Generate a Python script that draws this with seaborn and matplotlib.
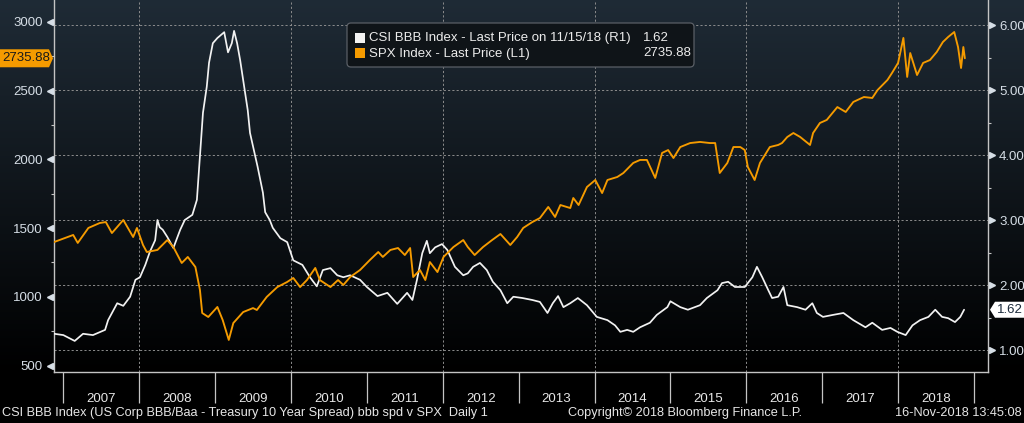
import numpy as np
import pandas as pd
import matplotlib
matplotlib.use("Agg")
import matplotlib.pyplot as plt
import seaborn as sns
from matplotlib import transforms
from matplotlib.patches import FancyBboxPatch, Polygon, Rectangle

# ---------------- data ----------------
bbb_t = [2006.88, 2007.00, 2007.15, 2007.26, 2007.39, 2007.55, 2007.59, 2007.71, 2007.79, 2007.88,
         2007.95, 2008.01, 2008.08, 2008.14, 2008.21, 2008.24, 2008.27, 2008.31, 2008.37, 2008.45,
         2008.54, 2008.60, 2008.70, 2008.76, 2008.80, 2008.84, 2008.89, 2008.92, 2008.97, 2009.03,
         2009.12, 2009.17, 2009.22, 2009.25, 2009.29, 2009.33, 2009.39, 2009.43, 2009.46, 2009.52,
         2009.56, 2009.63, 2009.66, 2009.72, 2009.76, 2009.86, 2009.95, 2010.03, 2010.15, 2010.25,
         2010.34, 2010.42, 2010.52, 2010.61, 2010.69, 2010.78, 2010.91, 2011.00, 2011.14, 2011.27,
         2011.40, 2011.53, 2011.60, 2011.66, 2011.73, 2011.79, 2011.83, 2011.90, 2011.99, 2012.06,
         2012.16, 2012.27, 2012.33, 2012.40, 2012.49, 2012.58, 2012.66, 2012.76, 2012.85, 2012.93,
         2013.05, 2013.18, 2013.28, 2013.38, 2013.45, 2013.52, 2013.59, 2013.68, 2013.78, 2013.90,
         2014.03, 2014.17, 2014.27, 2014.34, 2014.43, 2014.51, 2014.60, 2014.73, 2014.82, 2014.96,
         2015.00, 2015.13, 2015.23, 2015.39, 2015.48, 2015.62, 2015.68, 2015.76, 2015.85, 2015.98,
         2016.08, 2016.14, 2016.21, 2016.29, 2016.34, 2016.42, 2016.49, 2016.54, 2016.67, 2016.78,
         2016.87, 2016.93, 2017.01, 2017.14, 2017.28, 2017.41, 2017.57, 2017.66, 2017.79, 2017.90,
         2017.99, 2018.10, 2018.19, 2018.29, 2018.40, 2018.49, 2018.58, 2018.66, 2018.75, 2018.82,
         2018.87]
bbb_v = [1.25, 1.23, 1.14, 1.25, 1.23, 1.31, 1.46, 1.72, 1.68, 1.82,
         2.08, 2.12, 2.31, 2.51, 2.69, 3.00, 2.89, 2.85, 2.74, 2.57,
         2.85, 3.00, 3.08, 3.31, 3.97, 4.65, 5.05, 5.42, 5.72, 5.80,
         5.89, 5.58, 5.72, 5.91, 5.72, 5.46, 5.00, 4.69, 4.34, 4.03,
         3.82, 3.42, 3.12, 3.00, 2.88, 2.72, 2.66, 2.38, 2.31, 2.12,
         1.98, 2.23, 2.26, 2.15, 2.12, 2.15, 2.08, 1.97, 1.83, 1.88,
         1.71, 1.88, 1.77, 2.08, 2.49, 2.68, 2.49, 2.58, 2.63, 2.54,
         2.28, 2.15, 2.18, 2.28, 2.34, 2.23, 2.05, 1.92, 1.72, 1.82,
         1.80, 1.77, 1.74, 1.57, 1.72, 1.83, 1.66, 1.72, 1.80, 1.69,
         1.51, 1.46, 1.38, 1.28, 1.31, 1.28, 1.35, 1.42, 1.54, 1.66,
         1.75, 1.66, 1.62, 1.69, 1.80, 1.92, 2.03, 2.05, 1.97, 1.97,
         2.12, 2.28, 2.12, 1.92, 1.80, 1.82, 1.97, 1.69, 1.66, 1.62,
         1.72, 1.57, 1.51, 1.54, 1.57, 1.46, 1.35, 1.42, 1.31, 1.34,
         1.28, 1.23, 1.38, 1.46, 1.51, 1.62, 1.51, 1.49, 1.43, 1.51,
         1.62]

spx_t = [2006.88, 2007.13, 2007.19, 2007.33, 2007.48, 2007.56, 2007.64, 2007.79, 2007.92, 2007.97,
         2008.05, 2008.10, 2008.24, 2008.37, 2008.45, 2008.56, 2008.64, 2008.74, 2008.80, 2008.83,
         2008.91, 2009.03, 2009.10, 2009.18, 2009.24, 2009.37, 2009.50, 2009.55, 2009.68, 2009.82,
         2009.95, 2010.03, 2010.12, 2010.21, 2010.32, 2010.38, 2010.52, 2010.62, 2010.69, 2010.78,
         2010.91, 2011.04, 2011.15, 2011.21, 2011.31, 2011.41, 2011.50, 2011.57, 2011.61, 2011.70,
         2011.77, 2011.83, 2011.93, 2012.01, 2012.14, 2012.27, 2012.33, 2012.42, 2012.53, 2012.65,
         2012.76, 2012.89, 2012.98, 2013.06, 2013.18, 2013.28, 2013.39, 2013.48, 2013.55, 2013.68,
         2013.72, 2013.79, 2013.90, 2014.01, 2014.10, 2014.17, 2014.30, 2014.38, 2014.51, 2014.60,
         2014.69, 2014.80, 2014.89, 2014.97, 2015.04, 2015.13, 2015.26, 2015.39, 2015.52, 2015.59,
         2015.65, 2015.75, 2015.83, 2015.92, 2015.98, 2016.02, 2016.11, 2016.18, 2016.31, 2016.42,
         2016.47, 2016.54, 2016.62, 2016.71, 2016.84, 2016.88, 2016.97, 2017.06, 2017.20, 2017.31,
         2017.41, 2017.55, 2017.66, 2017.73, 2017.86, 2017.92, 2018.00, 2018.07, 2018.12, 2018.16,
         2018.25, 2018.33, 2018.42, 2018.51, 2018.59, 2018.66, 2018.74, 2018.79, 2018.83, 2018.86,
         2018.88]
spx_v = [1399, 1450, 1392, 1501, 1537, 1544, 1464, 1559, 1435, 1501,
         1377, 1326, 1341, 1413, 1362, 1246, 1290, 1217, 1050, 882,
         853, 926, 831, 686, 809, 889, 918, 904, 999, 1071,
         1108, 1137, 1071, 1122, 1210, 1122, 1071, 1122, 1086, 1144,
         1195, 1268, 1326, 1290, 1341, 1355, 1304, 1355, 1144, 1195,
         1122, 1253, 1180, 1290, 1362, 1413, 1362, 1304, 1362, 1413,
         1457, 1377, 1435, 1501, 1544, 1573, 1654, 1581, 1668, 1646,
         1719, 1668, 1799, 1850, 1755, 1850, 1872, 1901, 1974, 1996,
         1996, 1865, 2047, 2068, 2010, 2090, 2119, 2127, 2119, 2119,
         1901, 1974, 2090, 2090, 2068, 1945, 1850, 1974, 2090, 2105,
         2119, 2163, 2192, 2163, 2105, 2192, 2265, 2287, 2381, 2345,
         2418, 2454, 2447, 2505, 2578, 2629, 2702, 2884, 2600, 2774,
         2614, 2702, 2723, 2782, 2854, 2891, 2927, 2818, 2665, 2818,
         2735.88]

years = list(range(2007, 2019))
year_bounds = list(range(2007, 2020))
grid_years = [2008, 2010, 2012, 2014, 2016, 2018]
left_ticks = [500, 1000, 1500, 2000, 2500, 3000]
left_minor = [750, 1250, 1750, 2250, 2750]
right_ticks = [1.0, 2.0, 3.0, 4.0, 5.0, 6.0]
right_minor = [1.5, 2.5, 3.5, 4.5, 5.5]

bbb_label = "CSI BBB Index - Last Price on 11/15/18 (R1)"
spx_label = "SPX Index - Last Price (L1)"
bbb_last = "1.62"
spx_last = "2735.88"
footer_left = "CSI BBB Index (US Corp BBB/Baa - Treasury 10 Year Spread) bbb spd v SPX  Daily 1"
footer_mid = "Copyright\u00a9 2018 Bloomberg Finance L.P."
footer_right = "16-Nov-2018 13:45:08"

# ---------------- style ----------------
sns.set_theme(style="dark")
plt.rcParams['font.family'] = ['Liberation Sans', 'DejaVu Sans']
ORANGE = "#f59b00"
WHITE = "#f2f2f2"
TICKC = "#d6dee6"
SPINE = "#c4c4c4"
GRID = "#8c8c8c"

W, H = 1024, 423
fig = plt.figure(figsize=(W / 100, H / 100), dpi=100)
fig.patch.set_facecolor("black")

# background gradient (top bluish-gray -> black at plot bottom)
bg = fig.add_axes([0, 0, 1, 1], zorder=-10)
rows = np.zeros((H, 1, 3))
top = np.array([31, 43, 54]) / 255.0
plot_bottom = 372
for i in range(H):
    f = max(0.0, 1.0 - i / plot_bottom)
    rows[i, 0, :] = top * f
bg.imshow(rows, aspect="auto", extent=[0, 1, 0, 1], interpolation="bilinear")
bg.axis("off")

ax = fig.add_axes([54 / W, 51 / H, 934 / W, 372 / H])
ax.set_facecolor("none")
ax2 = ax.twinx()
ax2.set_facecolor("none")

# white series on ax (right axis scale), orange on ax2 (left scale), drawn on top
sns.lineplot(x=bbb_t, y=bbb_v, ax=ax, color=WHITE, linewidth=1.25, zorder=3)
sns.lineplot(x=spx_t, y=spx_v, ax=ax2, color=ORANGE, linewidth=1.35, zorder=3)

ax.set_xlim(2006.877, 2019.185)
ax.set_ylim(0.662, 6.385)
ax2.set_ylim(452.7, 3160)
ax.set_xlabel("")
ax.set_ylabel("")
ax2.set_ylabel("")
ax.grid(False)
ax2.grid(False)

# gridlines
for r in right_ticks:
    ax.axhline(r, color=GRID, lw=0.7, ls=(0, (2.2, 2.2)), zorder=1)
for gy in grid_years:
    ax.axvline(gy, color=GRID, lw=0.7, ls=(0, (2.2, 2.2)), zorder=1)

# axis sides
ax.yaxis.tick_right()
ax2.yaxis.tick_left()
ax.spines["top"].set_visible(False)
for s in ax2.spines.values():
    s.set_visible(False)
for s in ["left", "right", "bottom"]:
    ax.spines[s].set_visible(True)
    ax.spines[s].set_color(SPINE)
    ax.spines[s].set_linewidth(1.0)

# right ticks
ax.set_yticks(right_ticks)
ax.set_yticklabels([f"{r:.2f}" for r in right_ticks])
ax.set_yticks(right_minor, minor=True)
ax.tick_params(axis="y", which="major", length=0, pad=8, labelcolor=TICKC, labelsize=9.5)
ax.tick_params(axis="y", which="minor", length=2.5, width=0.8, color=SPINE, direction="out")

# left ticks
ax2.set_yticks(left_ticks)
ax2.set_yticklabels([str(v) for v in left_ticks])
ax2.set_yticks(left_minor, minor=True)
ax2.tick_params(axis="y", which="major", length=0, pad=8, labelcolor=TICKC, labelsize=9.5)
ax2.tick_params(axis="y", which="minor", length=2.5, width=0.8, color=SPINE, direction="out",
                left=True, right=False)

# triangle markers at major ticks
off_l = transforms.ScaledTranslation(-4 / 100, 0, fig.dpi_scale_trans)
off_r = transforms.ScaledTranslation(4 / 100, 0, fig.dpi_scale_trans)
tl = transforms.blended_transform_factory(ax2.transAxes, ax2.transData) + off_l
tr = transforms.blended_transform_factory(ax.transAxes, ax.transData) + off_r
ax2.plot([0] * len(left_ticks), left_ticks, ls="none", marker="<", ms=5, color=TICKC,
         transform=tl, clip_on=False)
ax.plot([1] * len(right_ticks), right_ticks, ls="none", marker=">", ms=5, color=TICKC,
        transform=tr, clip_on=False)

# x axis: year separators and centered year labels
ax.set_xticks(year_bounds)
ax.set_xticklabels([""] * len(year_bounds))
ax.set_xticks([y + 0.5 for y in years], minor=True)
ax.set_xticklabels([str(y) for y in years], minor=True)
ax.tick_params(axis="x", which="major", length=22.5, width=0.9, color=SPINE, direction="out",
               bottom=True)
ax.tick_params(axis="x", which="minor", length=0, pad=15, labelcolor="#e8e8e8", labelsize=9.5,
               bottom=True)

# ---------------- legend box ----------------
ident = transforms.IdentityTransform()
def Y(y):
    return H - y

box = FancyBboxPatch((347, Y(67)), 347, 44, boxstyle="round,pad=0,rounding_size=4",
                     transform=ident, facecolor="#0f1418", edgecolor="#5a5f66", lw=0.9, zorder=20)
fig.add_artist(box)
fig.add_artist(Rectangle((355, Y(43)), 10, 10, transform=ident, facecolor=WHITE,
                         edgecolor="none", zorder=21))
fig.add_artist(Rectangle((355, Y(58)), 10, 10, transform=ident, facecolor=ORANGE,
                         edgecolor="none", zorder=21))
fig.text(369 / W, Y(38) / H, bbb_label, color="#ececec", fontsize=9.5, va="center", ha="left", zorder=22)
fig.text(369 / W, Y(53.5) / H, spx_label, color="#ececec", fontsize=9.5, va="center", ha="left", zorder=22)
fig.text(643 / W, Y(38) / H, bbb_last, color="#ececec", fontsize=9.5, va="center", ha="left", zorder=22)
fig.text(643 / W, Y(53.5) / H, spx_last, color="#ececec", fontsize=9.5, va="center", ha="left", zorder=22)

# ---------------- last value tags ----------------
fig.canvas.draw()
ys = ax2.transData.transform((2010, spx_v[-1]))[1]
tag_l = Polygon([(0, ys - 9), (49, ys - 9), (53, ys), (49, ys + 9), (0, ys + 9)], closed=True,
                transform=ident, facecolor=ORANGE, edgecolor="none", zorder=20)
fig.add_artist(tag_l)
fig.text(26 / W, ys / H, spx_last, color="#1a1a1a", fontsize=9.5, va="center", ha="center", zorder=22)

yb = ax.transData.transform((2010, bbb_v[-1]))[1]
tag_r = Polygon([(990, yb), (995, yb + 8), (1024, yb + 8), (1024, yb - 8), (995, yb - 8)], closed=True,
                transform=ident, facecolor="#ffffff", edgecolor="none", zorder=20)
fig.add_artist(tag_r)
fig.text(1010 / W, yb / H, bbb_last, color="#1c2b3c", fontsize=9.5, va="center", ha="center", zorder=22)

# ---------------- footer ----------------
fy = Y(413) / H
fig.text(2 / W, fy, footer_left, color="#e6e6e6", fontsize=9.2, va="center", ha="left")
fig.text(685 / W, fy, footer_mid, color="#e6e6e6", fontsize=9.2, va="center", ha="center")
fig.text(1022 / W, fy, footer_right, color="#e6e6e6", fontsize=9.2, va="center", ha="right")

fig.savefig("out.png", dpi=100, facecolor=fig.get_facecolor())
